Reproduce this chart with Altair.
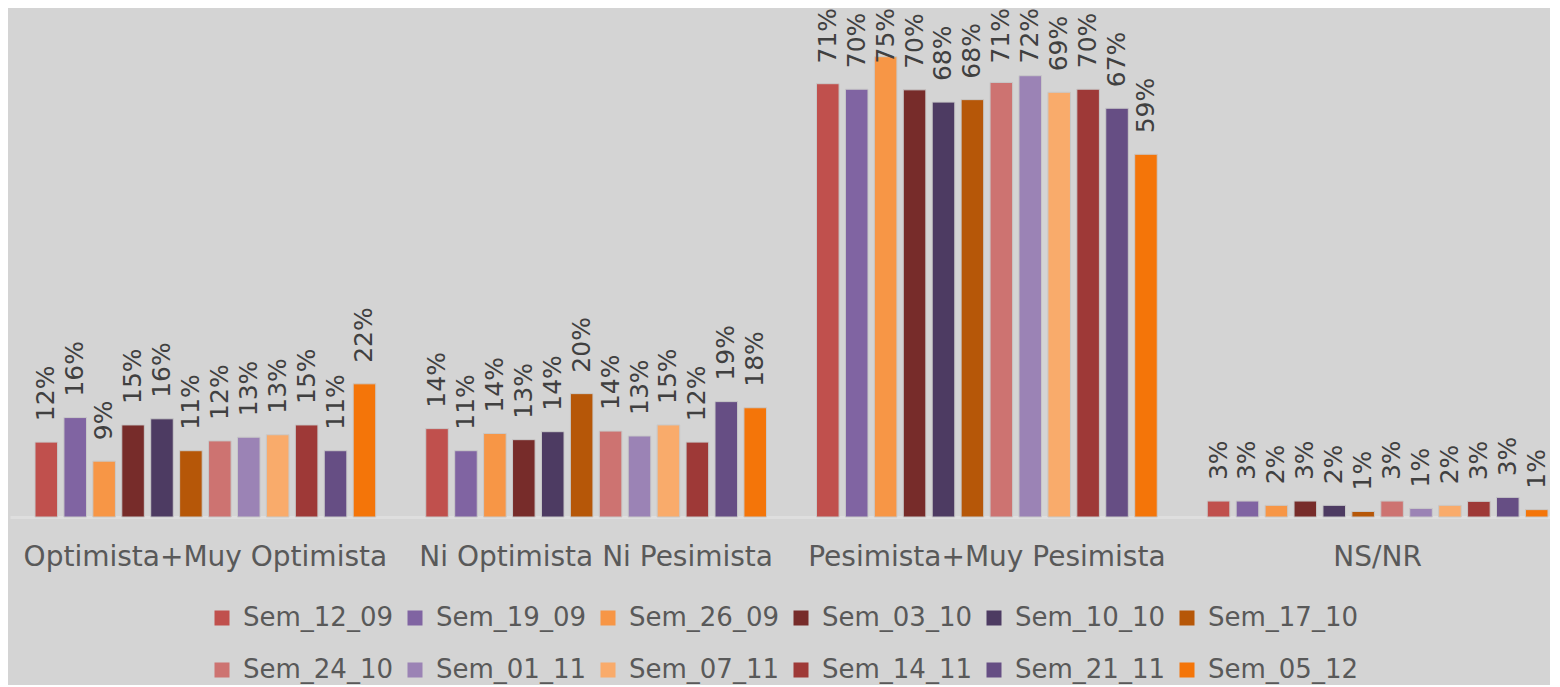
import altair as alt
import pandas as pd

categories = ["Optimista+Muy Optimista", "Ni Optimista Ni Pesimista",
              "Pesimista+Muy Pesimista", "NS/NR"]
series = ["Sem_12_09", "Sem_19_09", "Sem_26_09", "Sem_03_10", "Sem_10_10", "Sem_17_10",
          "Sem_24_10", "Sem_01_11", "Sem_07_11", "Sem_14_11", "Sem_21_11", "Sem_05_12"]
colors = ["#C0504D", "#8064A2", "#F79646", "#772C2A", "#4D3B62", "#B65708",
          "#CD7371", "#9B83B5", "#F9AB6B", "#9E3937", "#664E84", "#F47509"]

optimista = [12.2, 16.2, 9.1, 15.0, 16.0, 10.8, 12.4, 13.0, 13.4, 15.0, 10.8, 21.7]
ni_ni = [14.4, 10.8, 13.6, 12.6, 13.9, 20.1, 14.0, 13.2, 15.0, 12.2, 18.8, 17.8]
pesimista = [70.6, 69.7, 75.0, 69.6, 67.6, 68.0, 70.8, 71.9, 69.2, 69.7, 66.6, 59.1]
ns_nr = [2.6, 2.6, 1.9, 2.6, 1.9, 0.9, 2.6, 1.4, 1.9, 2.55, 3.2, 1.2]

rows = []
for cat, vals in zip(categories, [optimista, ni_ni, pesimista, ns_nr]):
    for s, v in zip(series, vals):
        rows.append({"categoria": cat, "semana": s, "valor": v})
df = pd.DataFrame(rows)

FONT = "DejaVu Sans"

x_enc = alt.X(
    "categoria:N", sort=categories, title=None,
    scale=alt.Scale(range=[0, 1563], paddingInner=0.128, paddingOuter=0.064),
    axis=alt.Axis(labelAngle=0, labelFont=FONT, labelFontSize=28, labelColor="#595959",
                  labelPadding=26, ticks=False, tickSize=0, domainColor="#DEDEDE",
                  domainWidth=3, labelLimit=600),
)
xoff_enc = alt.XOffset("semana:N", sort=series,
                       scale=alt.Scale(paddingInner=0.22, paddingOuter=0))

bars = alt.Chart(df).mark_bar(stroke="#C8C8C8", strokeWidth=1).encode(
    x=x_enc,
    xOffset=xoff_enc,
    y=alt.Y("valor:Q", scale=alt.Scale(domain=[0, 80]), axis=None),
    color=alt.Color(
        "semana:N", sort=series,
        scale=alt.Scale(domain=series, range=colors),
        legend=alt.Legend(
            title=None, orient="none", legendX=199, legendY=579,
            direction="horizontal", columns=6, columnPadding=9, rowPadding=26,
            symbolType="square", symbolSize=225, symbolStrokeWidth=0,
            labelFont=FONT, labelFontSize=26, labelColor="#595959",
            labelOffset=8, labelLimit=400, padding=0,
        ),
    ),
)

labels = alt.Chart(df).transform_calculate(
    etiqueta="format(datum.valor, '.0f') + '%'",
    pos="min(datum.valor + 3.42, 73.9)",
).mark_text(
    angle=270, align="left", baseline="middle", font=FONT, fontSize=25, color="#404040"
).encode(
    x=alt.X("categoria:N", sort=categories),
    xOffset=alt.XOffset("semana:N", sort=series),
    y=alt.Y("pos:Q"),
    text="etiqueta:N",
)

chart = alt.layer(bars, labels).properties(
    width=1540, height=491,
    padding={"left": 2, "top": 18, "right": 0, "bottom": 168},
    autosize=alt.AutoSizeParams(type="none"),
).configure(background="#D4D4D4").configure_view(stroke=None)

chart.save("out.html", embed_options={"renderer": "svg", "actions": False})
